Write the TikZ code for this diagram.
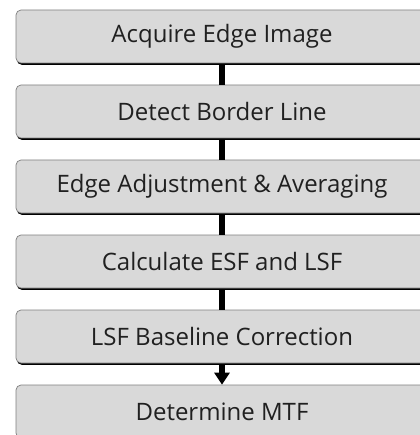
\documentclass[tikz,border=0pt]{standalone}
\usepackage{fontspec}
\setmainfont{Open Sans}
\usetikzlibrary{arrows.meta}
\definecolor{boxfill}{HTML}{D9D9D9}
\definecolor{boxline}{HTML}{7F7F7F}
\definecolor{txt}{HTML}{202020}
\tikzset{
  x=1pt, y=1pt,
  stepbox/.style={rectangle, rounded corners=5pt, fill=boxfill, draw=boxline,
    line width=0.7pt, minimum width=412pt, minimum height=53pt,
    text=txt, font=\fontsize{24}{26}\selectfont, inner sep=0pt},
  boxshade/.style={rectangle, rounded corners=5pt, fill=black,
    minimum width=412pt, minimum height=53pt, inner sep=0pt},
  link/.style={line width=6.5pt, black},
  linkarrow/.style={line width=5.5pt, black, -{Triangle[width=15pt,length=12pt]}}
}
\begin{document}
\begin{tikzpicture}
\useasboundingbox (0,0) rectangle (419,-435);
% shadows under the step boxes
\foreach \yy in {36.5,111.5,186.5,261.5,336.5,411.5}
  \node[boxshade] at (222.8,-\yy-1.8) {};
% step boxes
\node[stepbox] (s1) at (222,-36.5) {Acquire Edge Image};
\node[stepbox] (s2) at (222,-111.5) {Detect Border Line};
\node[stepbox] (s3) at (222,-186.5) {Edge Adjustment \& Averaging};
\node[stepbox] (s4) at (222,-261.5) {Calculate ESF and LSF};
\node[stepbox] (s5) at (222,-336.5) {LSF Baseline Correction};
\node[stepbox] (s6) at (222,-411.5) {Determine MTF};
% connectors
\draw[link] ([yshift=-1.8pt]s1.south) -- (s2.north);
\draw[link] ([yshift=-1.8pt]s2.south) -- (s3.north);
\draw[link] ([yshift=-1.8pt]s3.south) -- (s4.north);
\draw[link] ([yshift=-1.8pt]s4.south) -- (s5.north);
\draw[linkarrow] ([yshift=-1.8pt]s5.south) -- (s6.north);
\end{tikzpicture}
\end{document}
